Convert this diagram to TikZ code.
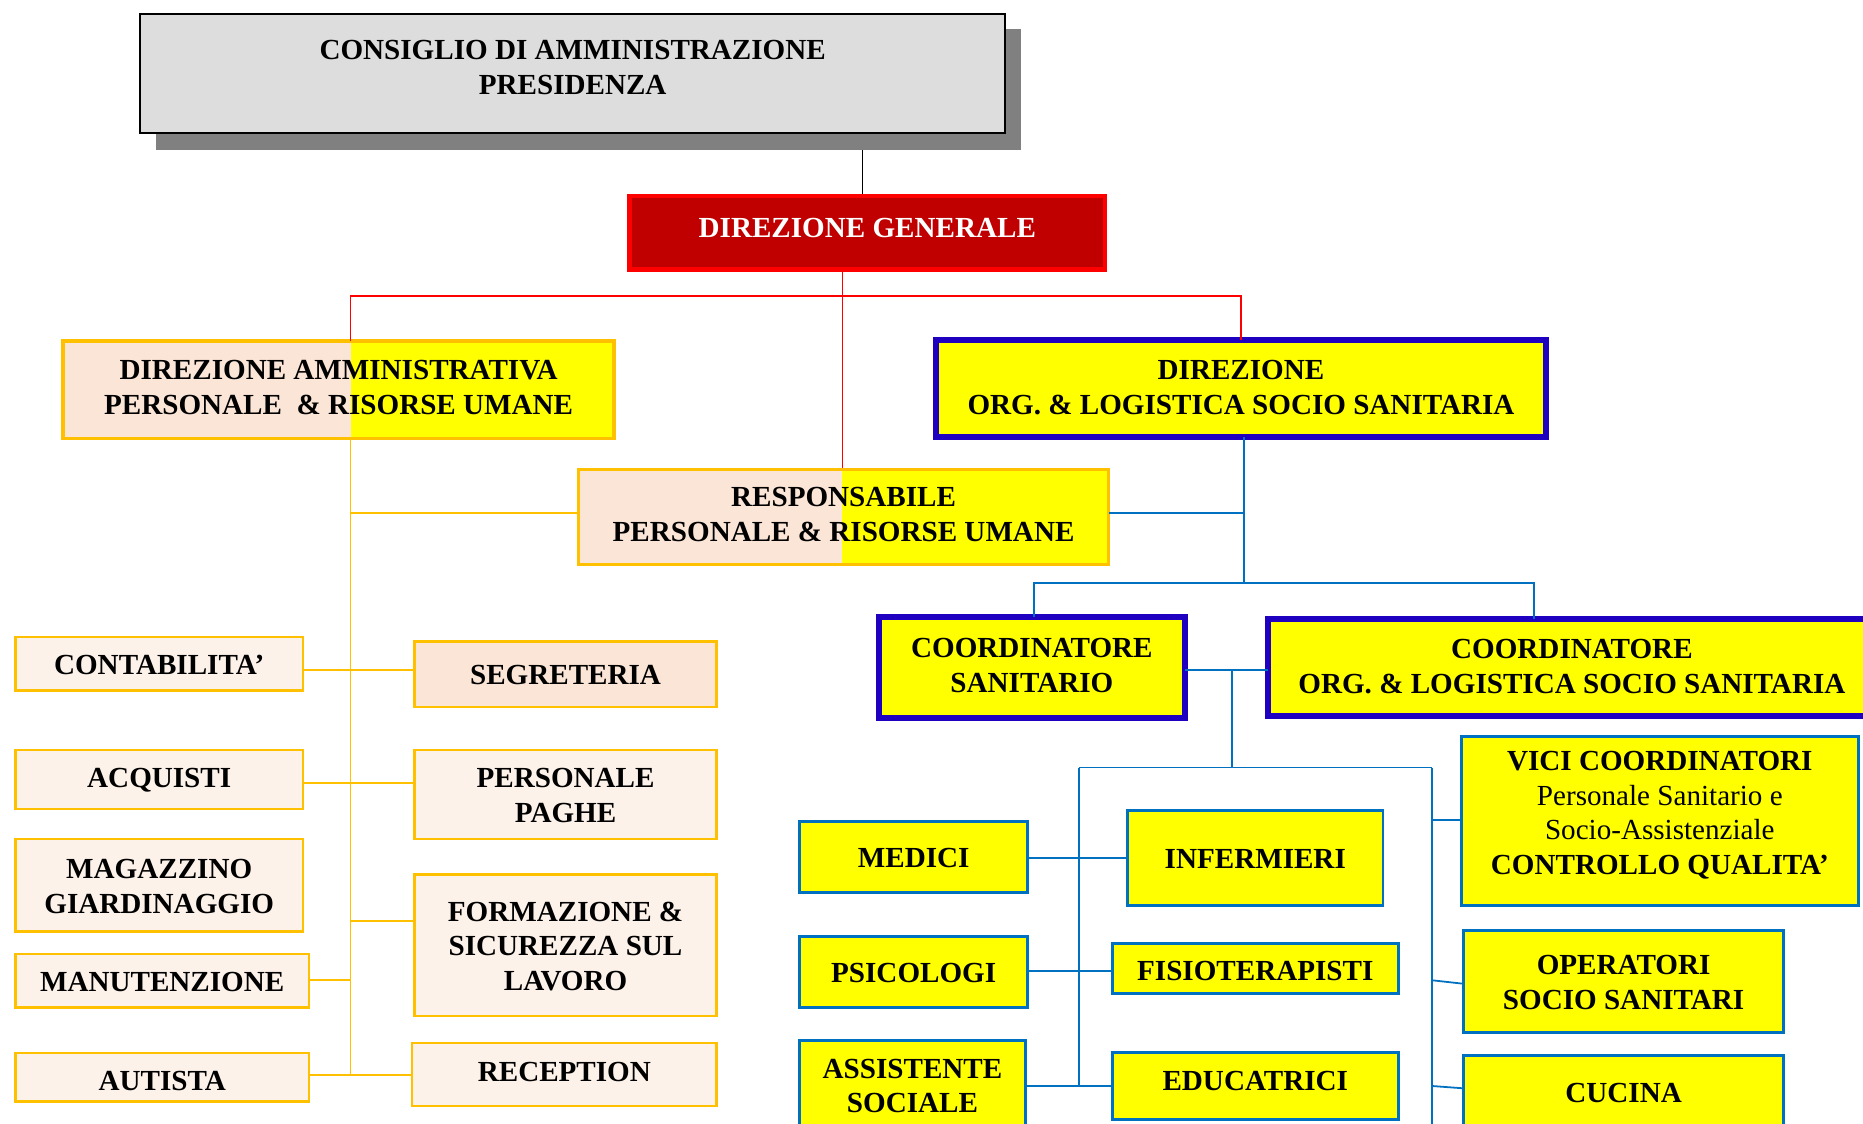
\documentclass[tikz,border=0pt]{standalone}
\usepackage{fontspec}
\setmainfont{Liberation Serif}
\definecolor{org}{HTML}{FFC000}
\definecolor{peach}{HTML}{FBE5D6}
\definecolor{lpeach}{HTML}{FDF2E9}
\definecolor{yel}{HTML}{FFFF00}
\definecolor{dblue}{RGB}{32,0,192}
\definecolor{lblue}{HTML}{0070C0}
\definecolor{gfill}{HTML}{DDDDDD}
\definecolor{gshadow}{HTML}{808080}
\definecolor{dred}{HTML}{C00000}
\definecolor{bred}{HTML}{FF0000}
\begin{document}
\begin{tikzpicture}[x=1pt,y=-1pt,
  every node/.style={inner sep=0pt,outer sep=0pt,align=center,
    font=\fontsize{24.5}{29}\selectfont\bfseries},
  obox/.style={draw=org,line width=2pt,fill=lpeach},
  obig/.style={draw=org,line width=3pt},
  dbox/.style={draw=dblue,line width=5pt,fill=yel},
  ybox/.style={draw=lblue,line width=2.5pt,fill=yel},
  oline/.style={draw=org,line width=1.5pt},
  bline/.style={draw=lblue,line width=1.5pt},
  rline/.style={draw=bred,line width=1.2pt}]
\useasboundingbox (0,0) rectangle (1568,946);
% helper coordinates
\coordinate (xk) at (726,0);
\coordinate (xr) at (709,0);
\coordinate (jr) at (709,249);
\coordinate (xo) at (295,0);
\coordinate (xb) at (1047,0);
\coordinate (jb) at (1047,491);
\coordinate (xcs) at (870,0);
\coordinate (xco) at (1291,0);
\coordinate (xm) at (1037,0);
\coordinate (jm) at (1037,646);
\coordinate (xl) at (908,0);
\coordinate (xrr) at (1205,0);
\coordinate (ybot) at (0,960);
% black connector (behind shadow)
\coordinate (ktop) at (726,112);
\coordinate (kbot) at (726,165);
\draw[line width=1.3pt] (ktop) -- (kbot);
% CDA with shadow
\fill[gshadow] (131,24) rectangle (859,126);
\node[draw=black,line width=2pt,fill=gfill,minimum width=728,minimum height=100] (cda) at (482,62) {};
\node (cdat) at (482,57) {CONSIGLIO DI AMMINISTRAZIONE\\PRESIDENZA};
% DG
\node[draw=bred,line width=4pt,fill=dred,minimum width=400,minimum height=62] (dg) at (730,196) {};
\node[text=white] (dgt) at (730,192) {DIREZIONE GENERALE};
% red connectors
\coordinate (rr) at (709,395);
\draw[rline] (dg.south -| xr) -- (rr);
% split fills
\fill[peach] (53,287) rectangle (295,369);
\fill[yel] (295,287) rectangle (517,369);
\fill[peach] (487,395) rectangle (709,475);
\fill[yel] (709,395) rectangle (933,475);
\node[obig,minimum width=464,minimum height=82] (dam) at (285,328) {};
\node (damt) at (285,326) {DIREZIONE AMMINISTRATIVA\\PERSONALE~ \& RISORSE UMANE};
\node[obig,minimum width=446,minimum height=80] (resp) at (710,435) {};
\node (respt) at (710,433) {RESPONSABILE\\PERSONALE \& RISORSE UMANE};
% Direzione org
\node[dbox,minimum width=513,minimum height=82] (dorg) at (1044.5,327) {};
\node (dorgt) at (1044.5,326) {DIREZIONE\\ORG. \& LOGISTICA SOCIO SANITARIA};
\draw[rline] (dam.north -| xo) |- (jr) -| (dorg.north);
% coordinators
\node[dbox,minimum width=257,minimum height=85] (cs) at (868.5,561.5) {};
\node (cst) at (868.5,560) {COORDINATORE\\SANITARIO};
\node[dbox,minimum width=512,minimum height=82] (corg) at (1323,562) {};
\node (corgt) at (1323,561) {COORDINATORE\\ORG. \& LOGISTICA SOCIO SANITARIA};
% blue connectors upper
\coordinate (y432) at (0,432);
\coordinate (y564) at (0,564);
\draw[bline] (dorg.south -| xb) -- (jb);
\draw[bline] (resp.east |- y432) -- (xb |- y432);
\draw[bline] (cs.north -| xcs) |- (jb) -| (corg.north -| xco);
\draw[bline] (cs.east |- y564) -- (corg.west |- y564);
\draw[bline] (xm |- y564) -- (jm);
\draw[bline] (xl |- jm) -- (xrr |- jm);
% yellow blue boxes
\node[ybox,minimum width=192,minimum height=60] (medici) at (769,721) {};
\node (medicit) at (769,722) {MEDICI};
\node[ybox,minimum width=192,minimum height=60] (psico) at (769,818) {};
\node (psicot) at (769,819) {PSICOLOGI};
\node[ybox,minimum width=190,minimum height=84] (assist) at (768,918) {};
\node (assistt) at (768,914) {ASSISTENTE\\SOCIALE};
\node[ybox,minimum width=215,minimum height=80] (inferm) at (1056.5,722) {};
\node (infermt) at (1056.5,723) {INFERMIERI};
\node[ybox,minimum width=241,minimum height=42] (fisio) at (1056.5,815) {};
\node (fisiot) at (1056.5,817) {FISIOTERAPISTI};
\node[ybox,minimum width=241,minimum height=56] (educ) at (1056.5,914) {};
\node (educt) at (1056.5,910) {EDUCATRICI};
\node[ybox,minimum width=334,minimum height=142] (vici) at (1397,691) {};
\node (vicit) at (1397,686) {VICI COORDINATORI\\{\mdseries Personale Sanitario e}\\{\mdseries Socio-Assistenziale}\\CONTROLLO QUALITA’};
\node[ybox,minimum width=269,minimum height=86] (oper) at (1366.5,826) {};
\node (opert) at (1366.5,827) {OPERATORI\\SOCIO SANITARI};
\node[ybox,minimum width=269,minimum height=72] (cucina) at (1366.5,924) {};
\node (cucinat) at (1366.5,920) {CUCINA};
% blue lower connectors
\coordinate (y722) at (0,722);
\coordinate (y914) at (0,914);
\coordinate (y817) at (0,817);
\coordinate (y690) at (0,690);
\coordinate (y825) at (0,825);
\coordinate (y828) at (0,828);
\coordinate (y916) at (0,916);
\draw[bline] (xl |- jm) -- (xl |- y914);
\draw[bline] (xrr |- jm) -- (xrr |- ybot);
\draw[bline] (medici.east |- y722) -- (inferm.west |- y722);
\draw[bline] (psico.east |- y817) -- (fisio.west |- y817);
\draw[bline] (assist.east |- y914) -- (educ.west |- y914);
\draw[bline] (xrr |- y690) -- (vici.west |- y690);
\draw[bline] (xrr |- y825) -- (oper.west |- y828);
\draw[bline] (xrr |- y914) -- (cucina.west |- y916);
% orange small boxes
\node[obox,minimum width=242,minimum height=45] (contab) at (134,558.5) {};
\node (contabt) at (134,560) {CONTABILITA’};
\node[obox,minimum width=242,minimum height=50] (acq) at (134,656) {};
\node (acqt) at (134,657) {ACQUISTI};
\node[obox,minimum width=242,minimum height=78] (magaz) at (134,745) {};
\node (magazt) at (134,746) {MAGAZZINO\\GIARDINAGGIO};
\node[obox,minimum width=247,minimum height=45] (manut) at (136.5,825.5) {};
\node (manutt) at (136.5,826.5) {MANUTENZIONE};
\node[obox,minimum width=247,minimum height=41] (autista) at (136.5,906.5) {};
\node (autistat) at (136.5,910) {AUTISTA};
\node[obox,fill=peach,minimum width=254,minimum height=55] (segr) at (476,567.5) {};
\node (segrt) at (476,568.5) {SEGRETERIA};
\node[obox,minimum width=254,minimum height=75] (paghe) at (476,668.5) {};
\node (paghet) at (476,669.5) {PERSONALE\\PAGHE};
\node[obox,minimum width=254,minimum height=119] (form) at (476,795.5) {};
\node (formt) at (476,796.5) {FORMAZIONE \&\\SICUREZZA SUL\\LAVORO};
\node[obox,minimum width=256,minimum height=53] (recep) at (475,904.5) {};
\node (recept) at (475,902) {RECEPTION};
% orange connectors
\coordinate (y905) at (0,905);
\coordinate (y659) at (0,659);
\coordinate (y775) at (0,775);
\draw[oline] (dam.south -| xo) -- (xo |- y905);
\draw[oline] (xo |- y432) -- (resp.west |- y432);
\draw[oline] (contab.east |- y564) -- (segr.west |- y564);
\draw[oline] (acq.east |- y659) -- (paghe.west |- y659);
\draw[oline] (xo |- y775) -- (form.west |- y775);
\draw[oline] (manut.east |- y825) -- (xo |- y825);
\draw[oline] (autista.east |- y905) -- (recep.west |- y905);
\end{tikzpicture}
\end{document}
